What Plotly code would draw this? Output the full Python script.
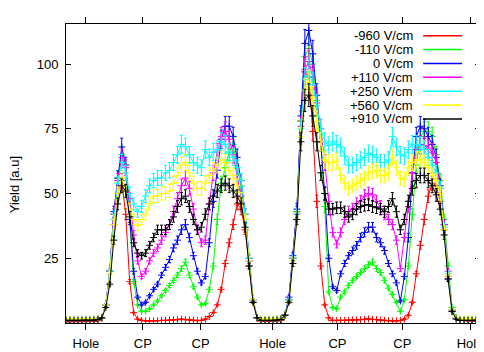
import plotly.graph_objects as go

# ---------------- data ----------------
x_pos = list(range(105))  # scan positions (equal steps)

names = ["-960 V/cm", "-110 V/cm", "0 V/cm", "+110 V/cm", "+250 V/cm", "+560 V/cm", "+910 V/cm"]
colors = ["#ff0000", "#00ff00", "#0000ff", "#ff00ff", "#00ffff", "#ffff00", "#000000"]

y_m960 = [0.5,0.5,0.6,0.5,0.6,0.5,0.6,0.6,0.9,
          2,7,20,38,50,55,42,16,4,1.5,1,
          0.8,0.8,0.8,0.9,1,1,1.1,1.2,1.3,1.5,1.3,1.2,1,0.9,1,1.5,2.5,4,7,13,23,31,38,46,
          44,36,22,8,2,
          0.8,0.7,0.7,0.7,0.8,1,
          3,
          9,25,43,78,97,95,74,47,22,
          7,2,1,1,1,1,1.1,1.2,1.2,1.3,1.4,1.6,1.4,1.3,1.1,1,0.9,0.8,0.8,1,
          1.5,3,8,19,30,40,49,54,53,47,36,18,5,2,1.2,1,0.8,0.8,0.8,0.8]

y_m110 = [1,1,1,1,1,1,1,1.2,1.5,
          2,7,20,42,56,65,60,40,16,7,4.5,
          4.5,5.5,7,8.5,10.5,12.5,14.5,16.5,18.5,21,23.5,18.5,14,10,7,7.5,13,22,40,54,60,66,69,60,
          53,40,24,9,2,
          1.2,1,1,1,1.1,1.5,
          3,
          9,25,43,78,103,106,100,86,70,
          45,12,6,5.5,10,12,14.5,16.5,18,19.5,21,22.5,23.5,21,19.5,16.5,13.5,11,8,4.5,
          9,22,42,61,72,74,74,72,65,55,40,22,6,2,1.2,1,1,1,1.2,1]

y_0 = [1,1,1,1,1,1,1,1.2,1.5,
       2,7,20,43,56,68,61,40,20,10,7,
       8,10.5,13,15,18.5,21.5,24.5,29,32,36,38,33,26,20,15.5,18,31,47,59,71,76,76,72,64,
       55,42,25,9,2,
       1.2,1,1,1,1.1,1.5,
       3,
       10,26,44,80,108,113,104,88,70,
       50,25,14,12.5,19,23,26,28,30,33,35,37,37,33,31,28,23,19,15.5,8.5,
       18,33,58,72,76,75,72,69,64,53,38,17,4.5,2,1.2,1,1,1,1.2,1]

y_p110 = [1.2,1.2,1.2,1.2,1.2,1.2,1.2,1.3,1.6,
          2,7,20,42,55,64,60,48,34,24,18,
          20,24,27,29,32,35,38,43,48,53,56,52,44,36,31,32,46,58,66,72,74,71,65,57,
          49,40,24,9,2,
          1.3,1.2,1.2,1.2,1.3,1.6,
          3,
          9,25,42,76,98,101,95,85,75,
          62,47,35,30.5,35,40,43,44,46,47,49,50,49.5,47,45,42,40,38,32,21,
          33,45,58,67,69,68.5,67.5,66,62,52,38,20,5,2,1.3,1.2,1.2,1.2,1.3,1.2]

y_p250 = [1.5,1.5,1.5,1.5,1.6,1.5,1.5,1.6,1.8,
          2,7,20,40,54,62,58,50,46,43,45,
          49,53,55,56,56,58,59,62,65,69,68,65,62,61,60,67,64,66,67,70,69,66,64,60,
          55,42,25,9,2,
          1.5,1.4,1.5,1.4,1.5,1.8,
          3,
          9,25,42,75,94,97,92,84,75,
          70,68.5,70,69,68,64.5,61,61,62,63,64,65.5,65,64,62,62,63,72,68,65,
          64.5,67,69,69,68.5,67,64,61,58,52,37,19,5,2,1.5,1.4,1.5,1.5,1.5,1.4]

y_p560 = [1.5,1.6,1.5,1.5,1.5,1.6,1.5,1.6,1.8,
          2,7,19,38,50,56,51,44,40,37.5,40,
          42,46,49,49,50,50,51,54,57,61,62,58,54,52,52,54,57,59,61,63,62,59,57,53,
          48,40,24,9,2,
          1.5,1.5,1.6,1.5,1.5,1.8,
          3,
          8,24,40,72,90,93,87,78,70,
          63,62,62,62.5,57,54,52,53,54,55,56,58,58.5,59,57,57,58,64,60,56,
          55.5,60,62,63,63,62,60,57,55,50,36,18,5,2,1.5,1.5,1.5,1.6,1.5,1.5]

y_p910 = [1,1,1,1,1,1.1,1,1.1,1.4,
          2,6,15,32,46,53,51,41,31,27,26,
          27,30,33,36,36,36,38,41,45,48,49,45,40,36,37,42,46,49,51,53,54,53,51,49,
          46,37,22,8,2,
          1,1,1,1,1.1,1.4,
          3,
          8,23,40,70,86,88,80,70,58,
          50,44,44,44.5,44.5,43,41,42,44,45,45.5,45.7,45,44.5,44,43,45,48,43,36,
          40,47,52,55,57,57,55,53,49.5,44,34,17,4.5,1.5,1,1,1,1,1.1,1]

series = [y_m960, y_m110, y_0, y_p110, y_p250, y_p560, y_p910]

xtick_vals = [5.0, 19.3, 33.8, 51.9, 68.2, 84.5, 101.5]
xtick_text = ["Hole", "CP", "CP", "Hole", "CP", "CP", "Hole"]
ytick_vals = [25, 50, 75, 100]

# ---------------- figure ----------------
FONT = "Liberation Sans, Arial, Helvetica, sans-serif"
W, H = 484, 352
OFF = 8  # page body margin offset of the plot div
# desired plot area in screen pixels
SX0, SX1, SY0, SY1 = 66, 481, 17, 325
PW, PH = SX1 - SX0, SY1 - SY0
ML, MT = SX0 - OFF, SY0 - OFF
MR, MB = W - (SX1 - OFF), H - (SY1 - OFF)

def px(sx):
    return (sx - SX0) / PW

def py(sy):
    return (SY1 - sy) / PH

fig = go.Figure()
for name, col, ys in zip(names, colors, series):
    fig.add_trace(go.Scatter(
        x=x_pos, y=ys, name=name, mode="lines+markers",
        line=dict(color=col, width=1),
        marker=dict(symbol="cross-thin", size=5, line=dict(color=col, width=1), color=col),
        error_y=dict(type="percent", value=5, color=col, thickness=1, width=1.5),
        showlegend=False,
    ))

# legend (text right-aligned, sample line to the right), gnuplot style
for k, (name, col) in enumerate(zip(names, colors)):
    yy = py(29 + 14.3 * k)
    fig.add_annotation(x=px(416), y=yy, xref="paper", yref="paper",
                       text=name, showarrow=False, xanchor="right", yanchor="middle",
                       font=dict(family=FONT, size=13, color="black"))
    fig.add_shape(type="line", xref="paper", yref="paper",
                  x0=px(424), x1=px(463), y0=yy, y1=yy,
                  line=dict(color=col, width=1.5))

fig.add_annotation(x=px(14), y=py(183), xref="paper", yref="paper",
                   text="Yield [a.u]", textangle=-90, showarrow=False,
                   xanchor="center", yanchor="middle",
                   font=dict(family=FONT, size=13, color="black"))

fig.update_layout(
    width=W, height=H,
    margin=dict(l=ML, r=MR, t=MT, b=MB, pad=0),
    paper_bgcolor="white", plot_bgcolor="white",
    font=dict(family=FONT, size=13, color="black"),
    xaxis=dict(range=[0, 104], tickvals=xtick_vals, ticktext=xtick_text,
               ticks="outside", ticklen=6, tickwidth=1, tickcolor="black",
               showline=True, linecolor="black", linewidth=1, mirror="ticks",
               showgrid=False, zeroline=False, ticklabelstandoff=2),
    yaxis=dict(range=[0, 115.5], tickvals=ytick_vals,
               ticks="inside", ticklen=5, tickwidth=1, tickcolor="black",
               showline=True, linecolor="black", linewidth=1, mirror="ticks",
               showgrid=False, zeroline=False, ticklabelstandoff=4),
)

fig.write_html("out.html")
